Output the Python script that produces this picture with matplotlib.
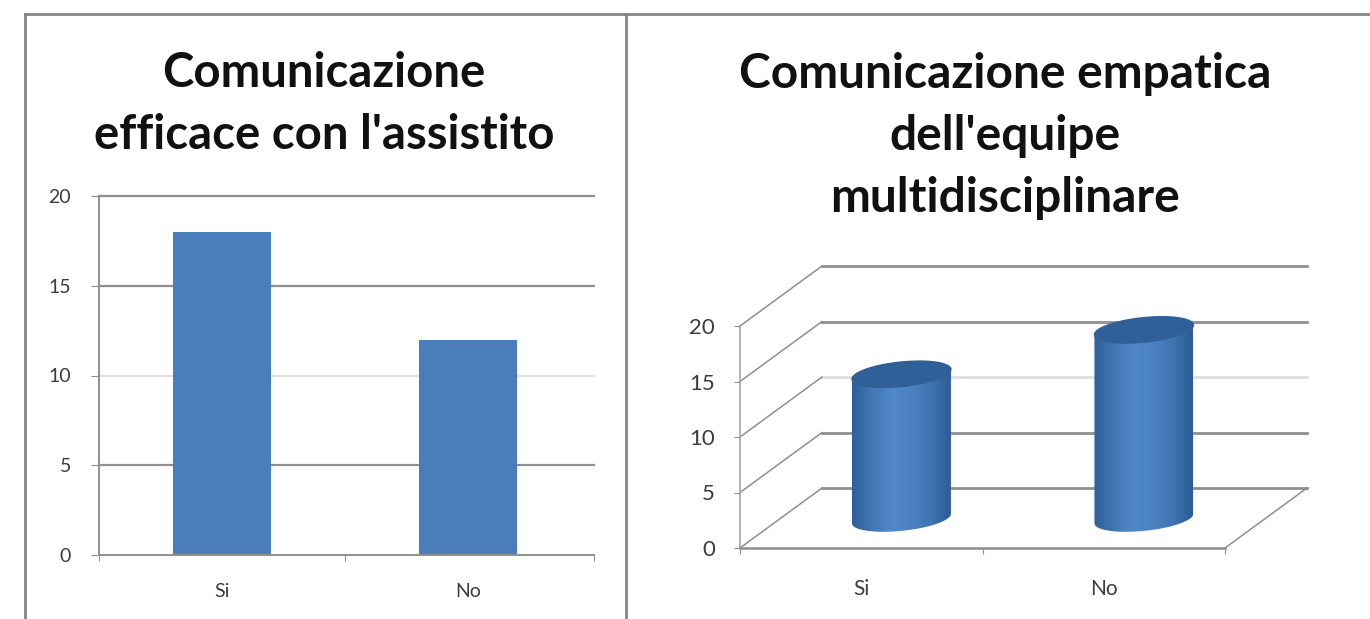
import numpy as np
import matplotlib.pyplot as plt
from matplotlib.lines import Line2D
from matplotlib.patches import PathPatch, Polygon
from matplotlib.path import Path
from matplotlib.colors import LinearSegmentedColormap

plt.rcParams['font.family'] = ['Lato', 'DejaVu Sans']

# data
categories = ['Si', 'No']
efficaceVals = [18, 12]
empaticaVals = [13, 17]
yTicks = [0, 5, 10, 15, 20]

titleLeft = "Comunicazione\nefficace con l'assistito"
titleRight = "Comunicazione empatica\ndell'equipe\nmultidisciplinare"

W, H = 1370, 619
lineDark = '#8f8f8f'
lineLight = '#dedede'
textCol = '#3c3c3c'
gridCols = {0: lineDark, 5: lineDark, 10: lineLight, 15: lineDark, 20: lineDark}


def axesAt(fig, left, right, top, bottom):
    return fig.add_axes([left/W, (H-bottom)/H, (right-left)/W, (bottom-top)/H])


fig = plt.figure(figsize=(W/100, H/100), dpi=100, facecolor='white')

# panel frame
for xs, ys in [((25, W), (14, 14)), ((25, 25), (14, H)), ((626, 626), (14, H))]:
    fig.add_artist(Line2D([x/W for x in xs], [(H-y)/H for y in ys], color='#858585', lw=2))

fig.text(324/W, (H-104)/H, titleLeft, ha='center', va='center', fontsize=34, fontweight='bold',
         color='#111111', linespacing=1.5)
fig.text(1005/W, (H-136)/H, titleRight, ha='center', va='center', fontsize=34.5, fontweight='bold',
         color='#111111', linespacing=1.5)

# ----------------------
# Left chart, flat bars
# ----------------------
barPlot = axesAt(fig, 99, 594, 196, 555)
barPos = np.arange(len(categories)) + 0.5
barPlot.set_xlim(0, 2.012)
barPlot.set_ylim(0, 20)
for v in yTicks[1:]:
    barPlot.axhline(v, color=gridCols[v], lw=1.6, zorder=1, clip_on=False)
barPlot.bar(barPos, efficaceVals, width=0.4, color='#4a7ebb', zorder=2)
for side in ['top', 'right']:
    barPlot.spines[side].set_visible(False)
for side in ['left', 'bottom']:
    barPlot.spines[side].set_color(lineDark)
    barPlot.spines[side].set_linewidth(1.4)
barPlot.set_yticks(yTicks)
barPlot.set_xticks([0, 1, 2.012])
barPlot.set_xticklabels([])
barPlot.set_xticks(barPos, categories, minor=True)
barPlot.tick_params(axis='x', which='minor', length=0, pad=20, labelsize=14, labelcolor=textCol)
barPlot.tick_params(axis='x', which='major', length=4, color=lineDark)
barPlot.tick_params(axis='y', length=6, color=lineDark, pad=14, labelsize=14, labelcolor=textCol)

# ----------------------
# Right chart, cylinders
# ----------------------
cylPlot = axesAt(fig, 740, 1225, 326, 548)
cylPlot.set_xlim(0, 2)
cylPlot.set_ylim(0, 20)
cylPlot.patch.set_visible(False)
depthX = 82/242.5
depthY = 60/11.1


def project(x, y, d):
    return x + d*depthX, y + d*depthY


for v in yTicks:
    x0, y0 = project(0, v, 0)
    x1, y1 = project(0, v, 1)
    x2, y2 = project(2, v, 1)
    col = gridCols[v]
    cylPlot.plot([x1, x2], [y1, y2], color=col, lw=2, zorder=1, clip_on=False)
    cylPlot.plot([x0, x1], [y0, y1], color=lineDark, lw=1.1, zorder=1, clip_on=False)

# floor edges
fx0, fy0 = project(2, 0, 0)
fx1, fy1 = project(2, 0, 1)
cylPlot.plot([fx0, fx1], [fy0, fy1], color=lineDark, lw=1.1, zorder=1, clip_on=False)

for side in ['top', 'right']:
    cylPlot.spines[side].set_visible(False)
cylPlot.spines['left'].set_color('#a5a5a5')
cylPlot.spines['left'].set_linewidth(1.2)
cylPlot.spines['bottom'].set_color(lineDark)
cylPlot.spines['bottom'].set_linewidth(1.8)
cylPlot.set_yticks(yTicks)
cylPlot.set_xticks([0, 1, 2])
cylPlot.set_xticklabels([])
cylPlot.set_xticks(barPos, categories, minor=True)
cylPlot.tick_params(axis='x', which='minor', length=0, pad=22, labelsize=15, labelcolor=textCol)
cylPlot.tick_params(axis='x', which='major', length=4, color=lineDark)
cylPlot.tick_params(axis='y', length=4, color=lineDark, pad=14, labelsize=16, labelcolor=textCol)

bodyMap = LinearSegmentedColormap.from_list('cyl', ['#2f609b', '#4276b4', '#5088c8', '#4c82c2', '#3f74b2', '#2c5c96'])
radX = 0.19
radD = 0.22
cylDepth = 0.49
# angle where the outline of the skewed ellipse reaches its left and right extremes
t0 = np.arctan2(radD*depthX, radX)

for cx, val in zip(barPos, empaticaVals):
    upper = np.linspace(t0, t0 + np.pi, 60)
    lower = np.linspace(t0 + np.pi, t0 + 2*np.pi, 60)
    topX, topY = project(cx + radX*np.cos(upper), val, cylDepth + radD*np.sin(upper))
    botX, botY = project(cx + radX*np.cos(lower), 0, cylDepth + radD*np.sin(lower))
    outline = np.column_stack([np.r_[topX, botX], np.r_[topY, botY]])
    outline = np.vstack([outline, outline[0]])

    img = cylPlot.imshow(np.linspace(0, 1, 128).reshape(1, -1), cmap=bodyMap, aspect='auto',
                         extent=[outline[:, 0].min(), outline[:, 0].max(), 0, 20], zorder=3)
    img.set_clip_path(PathPatch(Path(outline), transform=cylPlot.transData))

    full = np.linspace(0, 2*np.pi, 120)
    capX, capY = project(cx + radX*np.cos(full), val, cylDepth + radD*np.sin(full))
    cylPlot.add_patch(Polygon(np.column_stack([capX, capY]), closed=True, color='#2f6098', zorder=4, clip_on=False))

# imshow resets the limits
cylPlot.set_xlim(0, 2)
cylPlot.set_ylim(0, 20)

fig.savefig('out.png', dpi=100)
